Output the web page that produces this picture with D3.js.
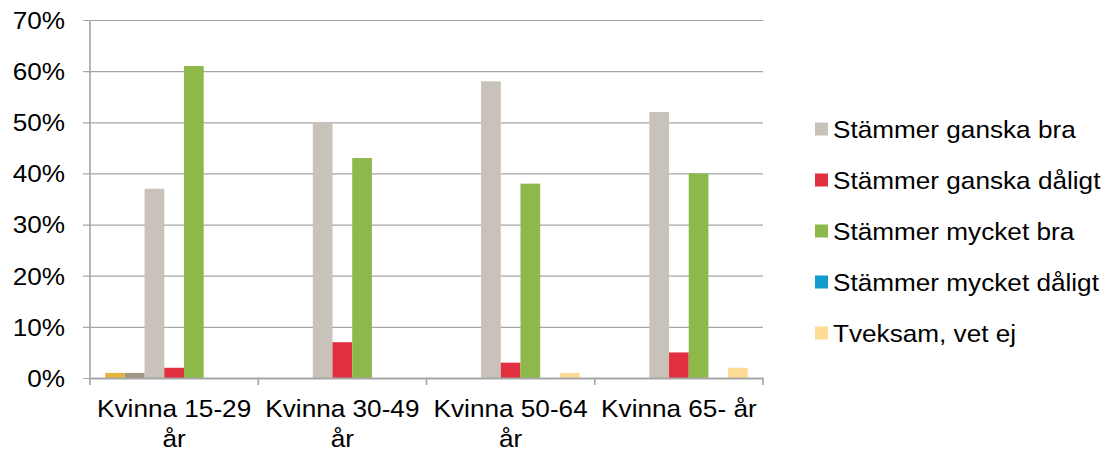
<!DOCTYPE html>
<html>
<head>
<meta charset="utf-8">
<script src="https://cdn.jsdelivr.net/npm/d3@7"></script>
<style>
    body { margin: 0; background: #fff; }
    text { font-family: "Liberation Sans", Arial, sans-serif; fill: #000; }
</style>
</head>
<body>
<div id="chart"></div>
<script>
//Datos
const categorias = ['Kvinna 15-29 år', 'Kvinna 30-49 år', 'Kvinna 50-64 år', 'Kvinna 65- år'];
const series = ['Serie A', 'Serie B', 'Stämmer ganska bra', 'Stämmer ganska dåligt', 'Stämmer mycket bra', 'Stämmer mycket dåligt', 'Tveksam, vet ej'];
const serieLeyenda = ['Stämmer ganska bra', 'Stämmer ganska dåligt', 'Stämmer mycket bra', 'Stämmer mycket dåligt', 'Tveksam, vet ej'];
const serieA = [0.01, 0, 0, 0];
const serieB = [0.01, 0, 0, 0];
const ganskaBra = [0.37, 0.50, 0.58, 0.52];
const ganskaDaligt = [0.02, 0.07, 0.03, 0.05];
const mycketBra = [0.61, 0.43, 0.38, 0.40];
const mycketDaligt = [0, 0, 0, 0];
const tveksam = [0, 0, 0.01, 0.02];
const yTicks = [0, 0.1, 0.2, 0.3, 0.4, 0.5, 0.6, 0.7];

//Colores
const colores = ['#E5B53C', '#A09484', '#C9C2BA', '#E0303F', '#8DB94A', '#119ACC', '#FFDC96'];

const valores = [serieA, serieB, ganskaBra, ganskaDaligt, mycketBra, mycketDaligt, tveksam];
let data = categorias.map((c, i) => {
    let row = { cat: c };
    series.forEach((s, j) => { row[s] = valores[j][i]; });
    return row;
});

//El original está algo estirado en horizontal
const K = 1.09;
let margin = {top: 20, left: 90 / K},
    width = (763 - 90) / K,
    height = 378 - 20;

let root = d3.select('#chart')
    .append('svg')
    .attr('width', 1109)
    .attr('height', 453)
    .append('g')
    .attr('transform', 'scale(' + K + ',1)');

let svg = root.append('g')
    .attr('transform', 'translate(' + margin.left + ',' + margin.top + ')');

let x0 = d3.scaleBand()
    .domain(categorias)
    .range([0, width])
    .padding(0);

let x1 = d3.scaleBand()
    .domain(series)
    .range([0, x0.bandwidth()])
    .paddingInner(0)
    .paddingOuter(0.77);

let y = d3.scaleLinear()
    .domain([0, 0.7])
    .range([height, 0]);

let color = d3.scaleOrdinal()
    .domain(series)
    .range(colores);

//Eje Y con rejilla
let yAxis = svg.append('g')
    .call(d3.axisLeft(y).tickValues(yTicks).tickFormat(d3.format('.0%')).tickSize(-width).tickSizeOuter(0));
yAxis.select('.domain').remove();
yAxis.selectAll('.tick line')
    .attr('x1', -7 / K)
    .attr('x2', width)
    .attr('stroke', '#A6A6A6')
    .attr('stroke-width', 1.2);
yAxis.selectAll('.tick text')
    .attr('x', -25 / K)
    .attr('dy', '0.35em')
    .style('font-size', '24px');

svg.append('line')
    .attr('x1', 0).attr('x2', 0)
    .attr('y1', 0).attr('y2', height)
    .attr('stroke', '#A6A6A6')
    .attr('stroke-width', 1.5);

//Barras
svg.append('g')
    .selectAll('g')
    .data(data)
    .enter()
    .append('g')
    .attr('transform', d => 'translate(' + x0(d.cat) + ',0)')
    .selectAll('rect')
    .data(d => series.map(s => ({ key: s, value: d[s] })))
    .enter()
    .append('rect')
    .attr('x', d => x1(d.key))
    .attr('y', d => y(d.value))
    .attr('width', x1.bandwidth())
    .attr('height', d => y(0) - y(d.value))
    .attr('fill', d => color(d.key));

//Eje X
let xAxis = svg.append('g')
    .attr('transform', 'translate(0,' + height + ')')
    .call(d3.axisBottom(x0).tickSize(0).tickSizeOuter(0));
xAxis.select('.domain')
    .attr('stroke', '#A6A6A6')
    .attr('stroke-width', 2);
xAxis.selectAll('.tick text')
    .attr('y', 38.7)
    .attr('dy', 0)
    .style('font-size', '24px')
    .call(wrap, x0.bandwidth() - 4);

let bordes = categorias.map(c => x0(c)).concat([width]);
xAxis.selectAll('.borde')
    .data(bordes)
    .enter()
    .append('line')
    .attr('class', 'borde')
    .attr('x1', d => d).attr('x2', d => d)
    .attr('y1', 0).attr('y2', 7)
    .attr('stroke', '#A6A6A6')
    .attr('stroke-width', 1.5);

function wrap(text, w) {
    text.each(function() {
        let t = d3.select(this),
            words = t.text().split(/\s+/),
            line = [],
            lineNumber = 0,
            yPos = t.attr('y'),
            tspan = t.text(null).append('tspan').attr('x', 0).attr('y', yPos);
        words.forEach(word => {
            line.push(word);
            tspan.text(line.join(' '));
            if (tspan.node().getComputedTextLength() > w && line.length > 1) {
                line.pop();
                tspan.text(line.join(' '));
                line = [word];
                lineNumber++;
                tspan = t.append('tspan').attr('x', 0).attr('y', +yPos + lineNumber * 30).text(word);
            }
        });
    });
}

//Leyenda
let legend = root.append('g')
    .selectAll('g')
    .data(serieLeyenda)
    .enter()
    .append('g')
    .attr('transform', (d, i) => 'translate(' + (815 / K) + ',' + (129 + i * 51) + ')');

legend.append('rect')
    .attr('x', 0)
    .attr('y', -6.5)
    .attr('width', 13 / K)
    .attr('height', 13)
    .attr('fill', d => color(d));

legend.append('text')
    .attr('x', 18 / K)
    .attr('y', 9)
    .style('font-size', '24px')
    .text(d => d);
</script>
</body>
</html>
